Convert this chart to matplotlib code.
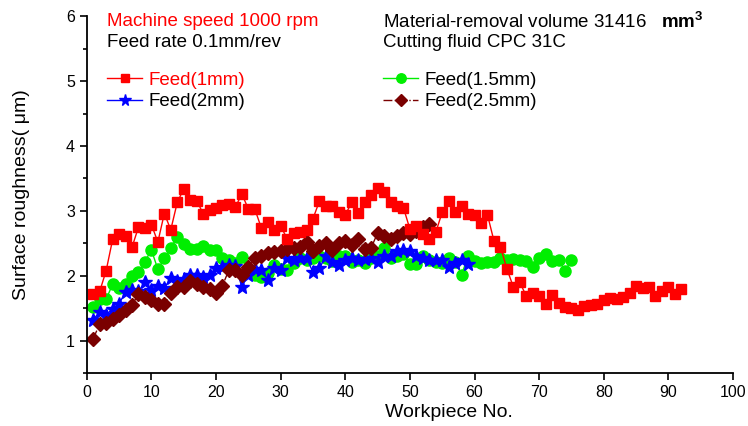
import numpy as np
import matplotlib
matplotlib.use("Agg")
import matplotlib.pyplot as plt
import matplotlib.ticker as ticker

plt.rcParams['font.family'] = ['Liberation Sans', 'DejaVu Sans']
plt.rcParams['mathtext.fontset'] = 'custom'
plt.rcParams['mathtext.rm'] = 'Liberation Sans'
plt.rcParams['mathtext.bf'] = 'Liberation Sans:bold'

# surface roughness (um) per workpiece
feed_1mm = [1.72, 1.76, 2.08, 2.56, 2.65, 2.62, 2.44, 2.75, 2.74, 2.79,
            2.52, 2.96, 2.71, 3.13, 3.34, 3.17, 3.16, 2.96, 3.02, 3.05,
            3.09, 3.10, 3.06, 3.26, 3.03, 3.03, 2.74, 2.83, 2.71, 2.77,
            2.57, 2.66, 2.68, 2.70, 2.88, 3.15, 3.07, 3.07, 2.98, 2.94,
            3.13, 2.97, 3.13, 3.24, 3.35, 3.29, 3.13, 3.07, 3.05, 2.72,
            2.77, 2.65, 2.57, 2.67, 2.98, 3.16, 2.99, 3.08, 2.95, 2.94,
            2.81, 2.94, 2.54, 2.45, 2.11, 1.83, 1.90, 1.69, 1.73, 1.69,
            1.56, 1.71, 1.58, 1.52, 1.50, 1.47, 1.54, 1.55, 1.57, 1.62,
            1.66, 1.64, 1.68, 1.73, 1.84, 1.81, 1.82, 1.69, 1.76, 1.83,
            1.72, 1.80]
feed_15mm = [1.52, 1.64, 1.64, 1.87, 1.81, 1.88, 1.99, 2.06, 2.22, 2.40,
             2.10, 2.27, 2.43, 2.60, 2.49, 2.42, 2.42, 2.46, 2.40, 2.40,
             2.27, 2.24, 2.20, 2.29, 2.08, 2.02, 1.98, 2.05, 2.17, 2.11,
             2.09, 2.19, 2.27, 2.25, 2.28, 2.31, 2.27, 2.23, 2.31, 2.30,
             2.21, 2.25, 2.19, 2.27, 2.30, 2.43, 2.28, 2.30, 2.33, 2.18,
             2.18, 2.31, 2.24, 2.22, 2.19, 2.27, 2.22, 2.02, 2.30, 2.23,
             2.19, 2.21, 2.22, 2.28, 2.25, 2.26, 2.24, 2.23, 2.13, 2.28,
             2.34, 2.23, 2.24, 2.08, 2.24]
feed_2mm = [1.32, 1.45, 1.40, 1.49, 1.57, 1.75, 1.78, 1.76, 1.90, 1.78,
            1.85, 1.81, 1.97, 1.92, 1.95, 2.02, 2.02, 1.98, 2.02, 2.12,
            2.13, 2.17, 2.15, 1.83, 2.02, 2.11, 2.09, 1.94, 2.12, 2.09,
            2.28, 2.24, 2.28, 2.27, 2.06, 2.12, 2.30, 2.22, 2.17, 2.24,
            2.27, 2.24, 2.26, 2.27, 2.21, 2.30, 2.30, 2.38, 2.40, 2.39,
            2.31, 2.27, 2.24, 2.24, 2.24, 2.13, 2.19, 2.24, 2.18]
feed_25mm = [1.03, 1.26, 1.28, 1.33, 1.40, 1.47, 1.55, 1.72, 1.67, 1.62,
             1.56, 1.57, 1.73, 1.83, 1.83, 1.92, 1.88, 1.83, 1.80, 1.73,
             1.85, 2.09, 2.09, 2.02, 2.13, 2.27, 2.31, 2.35, 2.37, 2.39,
             2.41, 2.43, 2.44, 2.52, 2.39, 2.46, 2.51, 2.40, 2.51, 2.53,
             2.47, 2.57, 2.41, 2.43, 2.66, 2.62, 2.57, 2.61, 2.66, 2.65,
             2.69, 2.75, 2.80]

x_ticks = [0, 10, 20, 30, 40, 50, 60, 70, 80, 90, 100]
y_ticks = [1, 2, 3, 4, 5, 6]

fig = plt.figure(figsize=(7.48, 4.26), dpi=100)
ax = fig.add_axes([0.116, 0.124, 0.864, 0.838])

x1 = np.arange(1, len(feed_1mm) + 1)
x15 = np.arange(1, len(feed_15mm) + 1)
x2 = np.arange(1, len(feed_2mm) + 1)
x25 = np.arange(1, len(feed_25mm) + 1)

l15, = ax.plot(x15, feed_15mm, '-', color='#00ee00', lw=1, marker='o', ms=8,
               mec='#00ee00', label='Feed(1.5mm)')
l2, = ax.plot(x2, feed_2mm, '-', color='#0000ff', lw=1, marker='*', ms=10,
              mec='#0000ff', label='Feed(2mm)')
l25, = ax.plot(x25, feed_25mm, '-.', color='#7a0000', lw=1, marker='D', ms=7,
               mec='#7a0000', label='Feed(2.5mm)')
l1, = ax.plot(x1, feed_1mm, '-', color='#ff0000', lw=1, marker='s', ms=7,
              mec='#ff0000', label='Feed(1mm)')

ax.set_xlim(0, 100)
ax.set_ylim(0.5, 6)
ax.set_xticks(x_ticks)
ax.set_yticks(y_ticks)
ax.yaxis.set_minor_locator(ticker.MultipleLocator(0.5))
ax.spines['top'].set_visible(False)
ax.spines['right'].set_visible(False)
ax.spines['left'].set_linewidth(1.3)
ax.spines['bottom'].set_linewidth(1.3)
ax.tick_params(axis='both', which='major', direction='out', length=5, width=1.2,
               labelsize=11.5)
ax.tick_params(axis='y', which='minor', direction='out', length=3, width=1.2)
ax.set_xlabel("Workpiece No.", fontsize=14)
ax.xaxis.set_label_coords(0.56, -0.085)
ax.set_ylabel("Surface roughness( \u03bcm)", fontsize=14)
ax.yaxis.set_label_coords(-0.088, 0.5)

txt_size = 13.5
ax.text(0.031, 0.985, "Machine speed 1000 rpm", color='red', fontsize=txt_size,
        va='center', transform=ax.transAxes)
ax.text(0.031, 0.925, "Feed rate 0.1mm/rev", color='black', fontsize=txt_size,
        va='center', transform=ax.transAxes)
ax.text(0.458, 0.985, r"Material-removal volume 31416   $\mathbf{mm}^{\mathbf{3}}$",
        color='black', fontsize=txt_size, va='center', transform=ax.transAxes)
ax.text(0.458, 0.925, "Cutting fluid CPC 31C", color='black', fontsize=txt_size,
        va='center', transform=ax.transAxes)

leg_kw = dict(frameon=False, fontsize=txt_size, loc='upper left', numpoints=1,
              handlelength=1.9, handletextpad=0.3, labelspacing=0.25,
              borderpad=0, borderaxespad=0, markerscale=0.85)
leg1 = ax.legend(handles=[l1, l2], bbox_to_anchor=(0.031, 0.845), **leg_kw)
leg1.get_texts()[0].set_color('red')
ax.add_artist(leg1)
ax.legend(handles=[l15, l25], bbox_to_anchor=(0.458, 0.845), **leg_kw)

fig.savefig("out.png", dpi=100)
